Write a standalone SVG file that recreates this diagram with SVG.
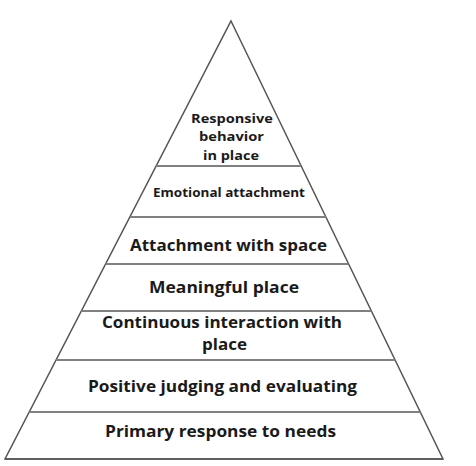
<svg xmlns="http://www.w3.org/2000/svg" width="476" height="466" viewBox="0 0 476 466">
<style>
.edge{fill:none;stroke:#555;stroke-width:1.5;stroke-linejoin:miter}
.sep{stroke:#808080;stroke-width:2}
.t{font-family:"Open Sans","Liberation Sans",sans-serif;font-weight:bold;fill:#1a1a1a;font-size:15.6px}
.s{font-size:13px}
</style>
<rect width="476" height="466" fill="#fff"/>
<g id="outline">
<polygon class="edge" points="231,21 443,459 5,459"/>
</g>
<g id="connectors">
<line class="sep" x1="156.2" y1="166" x2="301.2" y2="166"/>
<line class="sep" x1="129.9" y1="217" x2="325.9" y2="217"/>
<line class="sep" x1="105.6" y1="264" x2="348.6" y2="264"/>
<line class="sep" x1="81.4" y1="311" x2="371.4" y2="311"/>
<line class="sep" x1="56.1" y1="360" x2="395.1" y2="360"/>
<line class="sep" x1="29.2" y1="412" x2="420.2" y2="412"/>
<line class="edge" x1="5" y1="459" x2="443" y2="459"/>
</g>
<g id="level7">
<text class="t s" x="191" y="123" textLength="82" lengthAdjust="spacingAndGlyphs">Responsive</text>
<text class="t s" x="199" y="141" textLength="65" lengthAdjust="spacingAndGlyphs">behavior</text>
<text class="t s" x="203" y="160" textLength="56" lengthAdjust="spacingAndGlyphs">in place</text>
</g>
<g id="level6">
<text class="t s" x="153" y="197" textLength="152" lengthAdjust="spacingAndGlyphs">Emotional attachment</text>
</g>
<g id="level5">
<text class="t" x="130" y="251" textLength="197" lengthAdjust="spacingAndGlyphs">Attachment with space</text>
</g>
<g id="level4">
<text class="t" x="149" y="293" textLength="150" lengthAdjust="spacingAndGlyphs">Meaningful place</text>
</g>
<g id="level3">
<text class="t" x="102" y="328" textLength="240" lengthAdjust="spacingAndGlyphs">Continuous interaction with</text>
<text class="t" x="202" y="350" textLength="45" lengthAdjust="spacingAndGlyphs">place</text>
</g>
<g id="level2">
<text class="t" x="88" y="392" textLength="269" lengthAdjust="spacingAndGlyphs">Positive judging and evaluating</text>
</g>
<g id="level1">
<text class="t" x="105" y="437" textLength="231" lengthAdjust="spacingAndGlyphs">Primary response to needs</text>
</g>
</svg>
